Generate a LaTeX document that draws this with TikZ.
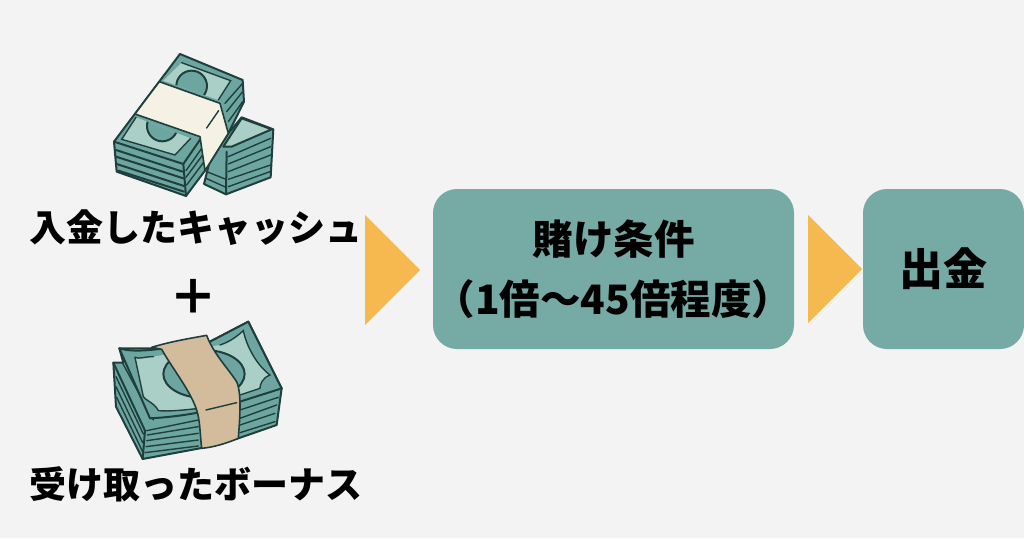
\documentclass[tikz,border=0pt]{standalone}
\usepackage{fontspec}
\setmainfont{Noto Sans CJK JP}
\definecolor{bgc}{HTML}{F3F3F3}
\definecolor{boxc}{HTML}{76ABA5}
\definecolor{tric}{HTML}{F5B94F}
\definecolor{inkc}{HTML}{1F3F3D}
\definecolor{midc}{HTML}{6DA6A0}
\definecolor{litec}{HTML}{A9CFC6}
\definecolor{bandA}{HTML}{F5F1E4}
\definecolor{bandB}{HTML}{D2BC9B}
\tikzset{
 box/.style={fill=boxc,rounded corners=24pt,minimum height=160pt,inner sep=0pt,align=center,font=\fontsize{40.5}{60}\selectfont\bfseries,text=black},
 lab/.style={inner sep=0pt,font=\fontsize{37}{37}\selectfont\bfseries,text=black},
 tri/.style={fill=tric,draw=none},
 ink/.style={draw=inkc,line width=2pt,line join=round,line cap=round},
 thin ink/.style={draw=inkc,line width=1.4pt,line cap=round},
 art/.style={shift={(#1)},x=0.3333pt,y=-0.3333pt},
}
\begin{document}
\begin{tikzpicture}[x=1pt,y=-1pt]
\path[use as bounding box,fill=bgc] (0,0) rectangle (1024,538);
% boxes
\node[box,minimum width=361pt] (cond) at (613.5,269) {賭け条件\\（1倍～45倍程度）};
\node[box,minimum width=161pt,font=\fontsize{44}{44}\selectfont\bfseries] (out) at (943.5,269) {出金};
% triangles
\fill[tri] (365,215) -- (420,270) -- (365,325) -- cycle;
\fill[tri] (808,215) -- (862,269) -- (808,323) -- cycle;
% labels
\node[lab] (cash) at (196,228) {入金したキャッシュ};
\node[lab] (bonus) at (196,484) {受け取ったボーナス};
\node[inner sep=0pt,font=\fontsize{48}{48}\selectfont\bfseries] (plus) at (193,297) {＋};
% --- bill stack 1
\begin{scope}[art={100pt,-40pt}]
 % rear stack
 \filldraw[ink,fill=midc] (330,360) -- (312,432) -- (378,463) -- (512,412) -- (520,268) -- (425,232) -- (385,280) -- cycle;
 \filldraw[ink,fill=litec] (370,320) -- (425,235) -- (515,268) -- (395,320) -- cycle;
 \draw[ink] (380,335) -- (378,463);
 \foreach \a/\b/\c/\d in {385/350/512/295, 385/372/512/320, 385/395/512/345, 385/418/512/375, 385/440/510/395, 320/395/378/418, 318/415/378/442}
  \draw[thin ink] (\a,\b) -- (\c,\d);
 % main stack
 \filldraw[ink,fill=midc] (240,42) -- (428,120) -- (432,185) -- (385,280) -- (315,392) -- (258,468) -- (50,395) -- (42,305) -- cycle;
 \begin{scope}
  \clip (245,68) -- (392,122) -- (355,180) -- (190,122) -- cycle;
  \fill[litec] (245,68) -- (392,122) -- (355,180) -- (190,122) -- cycle;
  \filldraw[ink,fill=midc] (275,138) circle (46);
 \end{scope}
 \draw[thin ink] (245,68) -- (392,122) -- (355,180);
 \begin{scope}
  \clip (108,232) -- (272,295) -- (225,345) -- (65,298) -- cycle;
  \fill[litec] (108,232) -- (272,295) -- (225,345) -- (65,298) -- cycle;
  \filldraw[ink,fill=midc] (187,258) circle (46);
 \end{scope}
 \draw[thin ink] (108,232) -- (65,298) -- (225,345) -- (272,295);
 \draw[ink] (42,305) -- (250,372) -- (303,295);
 \draw[ink] (250,372) -- (258,468);
 \foreach \a/\b/\c/\d in {48/330/248/395, 48/350/250/415, 50/372/252/438, 55/392/252/455}
  \draw[ink] (\a,\b) -- (\c,\d);
 \foreach \a/\b/\c/\d in {258/392/305/325, 258/412/308/345, 260/435/310/368}
  \draw[thin ink] (\a,\b) -- (\c,\d);
 \foreach \a/\b/\c/\d in {375/190/428/130, 380/215/428/155, 385/245/428/185}
  \draw[thin ink] (\a,\b) -- (\c,\d);
 % band
 \filldraw[draw=inkc,line width=1.6pt,line join=round,fill=bandA] (178,125) -- (360,190) -- (385,280) -- (315,392) -- (300,290) -- (105,222) -- cycle;
 \draw[thin ink] (320,264) -- (356,212);
\end{scope}
% --- bill stack 2
\begin{scope}[art={100pt,-310pt}]
 % body
 \filldraw[ink,fill=midc] (40,158) -- (48,290) -- (128,447) -- (300,415) -- (415,385) -- (530,345) -- (545,235) -- (445,35) -- (330,95) -- (165,115) -- (58,115) -- (70,158) -- cycle;
 \draw[ink] (40,158) -- (135,362);
 \draw[ink] (135,362) -- (128,447);
 \foreach \a/\b/\c/\d in {48/200/130/372, 48/230/128/398, 50/262/128/425, 68/160/160/330}
  \draw[thin ink] (\a,\b) -- (\c,\d);
 \foreach \a/\b/\c/\d in {140/362/295/330, 142/375/295/350, 140/392/295/370, 138/410/295/390, 135/428/295/408, 420/300/535/262, 420/325/530/285, 420/345/525/310, 420/368/525/335}
  \draw[thin ink] (\a,\b) -- (\c,\d);
 % top sheet
 \filldraw[ink,fill=midc] (58,115) .. controls (90,125) and (130,122) .. (170,118) -- (330,95) -- (445,35) -- (545,235) .. controls (500,250) and (450,265) .. (420,275) .. controls (350,300) and (250,320) .. (150,325) -- cycle;
 \begin{scope}
  \path[clip] (105,142) .. controls (120,148) and (130,140) .. (160,140) -- (360,105) .. controls (390,95) and (410,80) .. (430,62) .. controls (440,110) and (470,165) .. (510,195) .. controls (485,205) and (480,225) .. (480,235) -- (300,295) .. controls (250,300) and (210,305) .. (175,302) .. controls (165,280) and (135,270) .. (130,260) -- cycle;
  \fill[litec] (0,0) rectangle (600,400);
  \filldraw[ink,fill=midc] (312,192) ellipse (122 and 72);
 \end{scope}
 \draw[thin ink] (105,142) .. controls (120,148) and (130,140) .. (160,140);
 \draw[thin ink] (130,260) -- (105,142);
 \draw[thin ink] (130,260) .. controls (135,270) and (165,280) .. (175,302) .. controls (210,305) and (250,300) .. (300,295);
 \draw[thin ink] (360,105) .. controls (390,95) and (410,80) .. (430,62) .. controls (440,110) and (470,165) .. (510,195) .. controls (485,205) and (480,225) .. (480,235) -- (420,255);
 % band
 \filldraw[draw=inkc,line width=1.6pt,line join=round,fill=bandB] (155,112) .. controls (210,95) and (270,85) .. (320,76) .. controls (340,130) and (380,170) .. (410,215) .. controls (425,250) and (420,320) .. (415,385) .. controls (380,400) and (340,412) .. (305,415) .. controls (300,370) and (300,330) .. (290,300) .. controls (270,240) and (220,180) .. (185,118) -- cycle;
 \draw[thin ink] (318,300) -- (410,278);
\end{scope}
\end{tikzpicture}
\end{document}
